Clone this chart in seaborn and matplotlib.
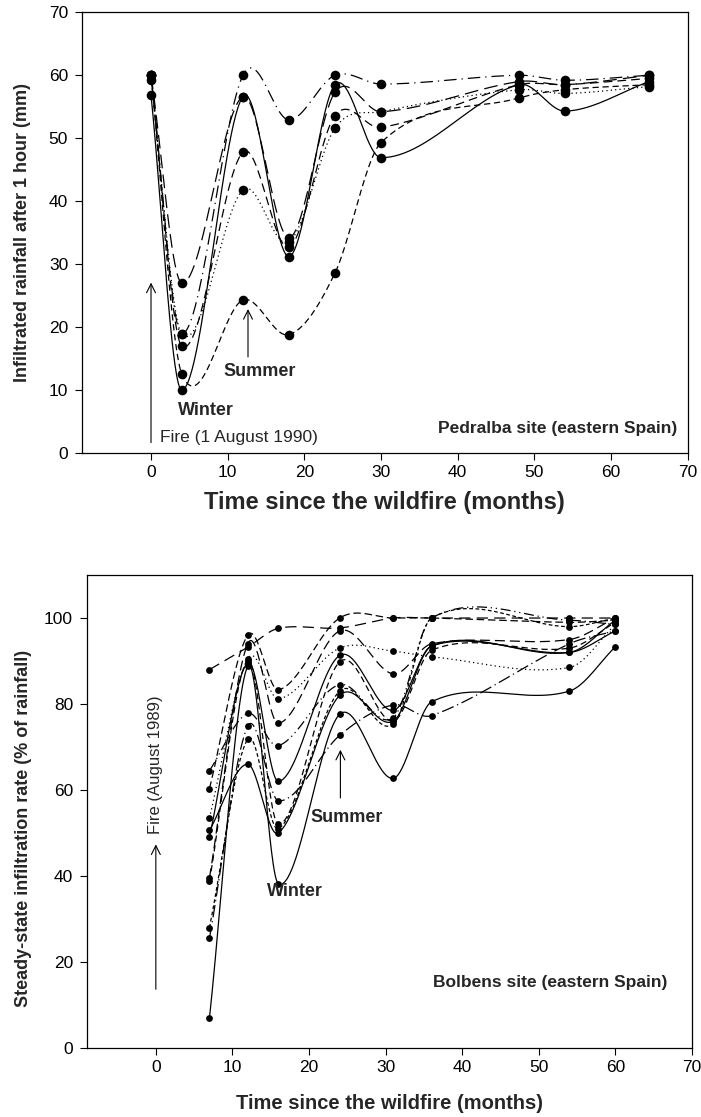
import numpy as np
import pandas as pd
import matplotlib
matplotlib.use("Agg")
import matplotlib.pyplot as plt
import seaborn as sns

# ---------------- data ----------------
top_months = [0, 4, 12, 18, 24, 30, 48, 54, 65]
top_s1 = [56.8, 10.0, 56.6, 31.2, 58.5, 46.9, 58.5, 54.3, 59.0]
top_s2 = [60.0, 18.9, 60.0, 52.9, 60.0, 58.6, 60.0, 59.2, 60.0]
top_s3 = [60.0, 12.6, 24.3, 18.8, 28.6, 49.3, 56.4, 57.7, 58.5]
top_s4 = [60.0, 17.0, 47.8, 32.7, 53.6, 51.7, 58.5, 58.5, 59.5]
top_s5 = [59.3, 18.9, 41.8, 33.5, 51.6, 54.2, 57.7, 57.1, 58.2]
top_s6 = [60.0, 27.0, 56.6, 34.2, 57.3, 54.2, 59.0, 58.5, 60.0]

bot_months = [7, 12, 16, 24, 31, 36, 54, 60]
bot_s1 = [7.0, 88.8, 38.2, 77.6, 62.7, 80.5, 83.0, 93.3]
bot_s2 = [88.0, 93.2, 97.6, 97.7, 100.0, 100.0, 100.0, 100.0]
bot_s3 = [25.5, 74.8, 57.5, 72.7, 79.8, 77.3, 94.0, 97.0]
bot_s4 = [60.3, 96.0, 83.3, 100.0, 100.0, 100.0, 99.0, 99.5]
bot_s5 = [53.5, 90.5, 81.2, 93.0, 92.3, 91.0, 88.5, 98.5]
bot_s6 = [39.5, 94.0, 75.5, 97.0, 87.0, 94.0, 95.0, 100.0]
bot_s7 = [49.0, 89.6, 62.0, 91.3, 78.5, 93.5, 92.0, 97.0]
bot_s8 = [64.5, 77.8, 70.3, 84.5, 76.8, 100.0, 99.5, 98.5]
bot_s9 = [38.8, 90.1, 52.0, 89.8, 76.0, 92.5, 93.0, 99.0]
bot_s10 = [28.0, 71.8, 51.0, 83.0, 75.3, 100.0, 98.0, 100.0]
bot_s11 = [50.6, 66.0, 50.0, 82.0, 76.0, 93.5, 92.0, 99.5]

top_series = [top_s1, top_s2, top_s3, top_s4, top_s5, top_s6]
bot_series = [bot_s1, bot_s2, bot_s3, bot_s4, bot_s5, bot_s6,
              bot_s7, bot_s8, bot_s9, bot_s10, bot_s11]

top_styles = ['-', (0, (10, 4, 1, 4)), (0, (5, 3)), (0, (7, 4)),
              (0, (1, 2.5)), (0, (11, 5))]
bot_styles = ['-', (0, (9, 5)), (0, (10, 3, 1, 3)), (0, (6, 3)),
              (0, (1, 2.5)), (0, (8, 4)), '-', (0, (8, 3, 1, 3, 1, 3)),
              (0, (5, 3)), (0, (3, 2)), '-']


def smooth_curve(x, y, n=60):
    """Cubic Hermite curve through the data points (Catmull-Rom tangents)."""
    x = np.asarray(x, float)
    y = np.asarray(y, float)
    k = len(x)
    m = np.zeros(k)
    m[0] = (y[1] - y[0]) / (x[1] - x[0])
    m[-1] = (y[-1] - y[-2]) / (x[-1] - x[-2])
    for i in range(1, k - 1):
        m[i] = (y[i + 1] - y[i - 1]) / (x[i + 1] - x[i - 1])
    xs_all, ys_all = [], []
    for i in range(k - 1):
        h = x[i + 1] - x[i]
        t = np.linspace(0, 1, n)
        h00 = 2 * t ** 3 - 3 * t ** 2 + 1
        h10 = t ** 3 - 2 * t ** 2 + t
        h01 = -2 * t ** 3 + 3 * t ** 2
        h11 = t ** 3 - t ** 2
        ys = h00 * y[i] + h10 * h * m[i] + h01 * y[i + 1] + h11 * h * m[i + 1]
        xs_all.append(x[i] + t * h)
        ys_all.append(ys)
    return np.concatenate(xs_all), np.concatenate(ys_all)


sns.set_style("ticks")
plt.rcParams['font.family'] = ['Liberation Sans', 'DejaVu Sans']

fig = plt.figure(figsize=(7.01, 11.17), dpi=100)
ax1 = fig.add_axes([0.117, 0.5945, 0.864, 0.3945])
ax2 = fig.add_axes([0.124, 0.0618, 0.863, 0.4234])

arrow_kw = dict(arrowstyle='->', color='black', lw=0.8, mutation_scale=16)

# ---- top panel ----
rows = []
for i, s in enumerate(top_series):
    xs, ys = smooth_curve(top_months, s)
    ax1.plot(xs, ys, color='black', lw=0.9, linestyle=top_styles[i], zorder=2)
    for m, v in zip(top_months, s):
        rows.append({'month': m, 'value': v, 'series': i})
df_top = pd.DataFrame(rows)
sns.scatterplot(data=df_top, x='month', y='value', color='black', s=48,
                edgecolor='black', linewidth=0, ax=ax1, zorder=3, legend=False)

ax1.set_xlim(-9, 70)
ax1.set_ylim(0, 70)
ax1.set_xticks(range(0, 71, 10))
ax1.set_yticks(range(0, 71, 10))
ax1.set_xlabel('Time since the wildfire (months)', fontsize=17,
               fontweight='bold', labelpad=8)
ax1.set_ylabel('Infiltrated rainfall after 1 hour (mm)', fontsize=13,
               fontweight='bold', labelpad=13)

ax1.annotate('', xy=(0, 27.5), xytext=(0, 1.2), arrowprops=arrow_kw)
ax1.text(1.2, 2.5, 'Fire (1 August 1990)', fontsize=12.5, va='center',
         ha='left')
ax1.text(7.2, 6.75, 'Winter', fontsize=13, fontweight='bold', ha='center',
         va='center')
ax1.text(14.2, 13.0, 'Summer', fontsize=13, fontweight='bold', ha='center',
         va='center')
ax1.annotate('', xy=(12.65, 23.3), xytext=(12.65, 14.8), arrowprops=arrow_kw)
ax1.text(68.6, 3.85, 'Pedralba site (eastern Spain)', fontsize=12.5,
         fontweight='bold', ha='right', va='center')

# ---- bottom panel ----
rows = []
for i, s in enumerate(bot_series):
    xs, ys = smooth_curve(bot_months, s)
    ax2.plot(xs, ys, color='black', lw=0.9, linestyle=bot_styles[i], zorder=2)
    for m, v in zip(bot_months, s):
        rows.append({'month': m, 'value': v, 'series': i})
df_bot = pd.DataFrame(rows)
sns.scatterplot(data=df_bot, x='month', y='value', color='black', s=24,
                edgecolor='black', linewidth=0, ax=ax2, zorder=3, legend=False)

ax2.set_xlim(-9, 70)
ax2.set_ylim(0, 110)
ax2.set_xticks(range(0, 71, 10))
ax2.set_yticks(range(0, 101, 20))
ax2.set_xlabel('Time since the wildfire (months)', fontsize=14.5,
               fontweight='bold', labelpad=14)
ax2.set_ylabel('Steady-state infiltration rate (% of rainfall)', fontsize=13,
               fontweight='bold', labelpad=10)
ax2.yaxis.set_label_coords(-0.09, 0.465)

ax2.annotate('', xy=(0, 48), xytext=(0, 13), arrowprops=arrow_kw)
ax2.text(0, 66, 'Fire (August 1989)', fontsize=12, rotation=90,
         ha='center', va='center')
ax2.text(24.9, 53.7, 'Summer', fontsize=13, fontweight='bold', ha='center',
         va='center')
ax2.annotate('', xy=(24.1, 70), xytext=(24.1, 57.5), arrowprops=arrow_kw)
ax2.text(18.1, 36.5, 'Winter', fontsize=13, fontweight='bold', ha='center',
         va='center')
ax2.text(66.8, 15.2, 'Bolbens site (eastern Spain)', fontsize=12.5,
         fontweight='bold', ha='right', va='center')

for ax in (ax1, ax2):
    for sp in ax.spines.values():
        sp.set_visible(True)
        sp.set_linewidth(0.9)
        sp.set_color('black')
    ax.tick_params(direction='out', length=5, width=0.8, labelsize=12.5,
                   top=False, right=False, colors='black')
    ax.tick_params(axis='y', pad=5)

fig.savefig('out.png', dpi=100)
